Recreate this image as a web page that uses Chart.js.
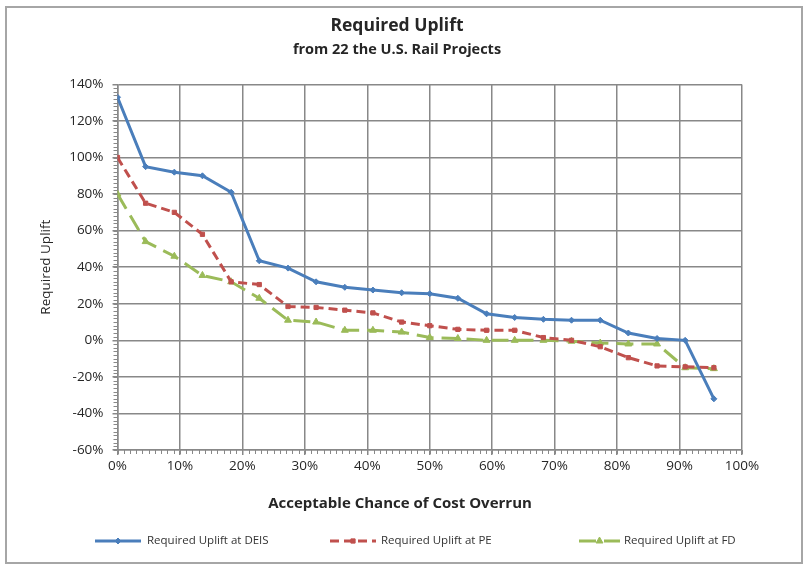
<!DOCTYPE html>
<html>
<head>
<meta charset="utf-8">
<script src="https://cdn.jsdelivr.net/npm/chart.js@4.4.1/dist/chart.umd.min.js"></script>
<style>
    html, body { margin: 0; padding: 0; background: #fff; }
</style>
</head>
<body>
<canvas id="upliftChart" width="807" height="566"></canvas>
<script>
// Acceptable chance of cost overrun (%), one point per project rank (22 projects)
const chancePct = [0, 4.5, 9.1, 13.6, 18.2, 22.7, 27.3, 31.8, 36.4, 40.9, 45.5,
                   50, 54.5, 59.1, 63.6, 68.2, 72.7, 77.3, 81.8, 86.4, 90.9, 95.5];

// Required uplift (%)
const upliftDEIS = [133, 95, 92, 90, 81, 43.5, 39.5, 32, 29, 27.5, 26,
                    25.5, 23, 14.5, 12.5, 11.5, 11, 11, 4, 1, 0, -32];
const upliftPE = [100, 75, 70, 58, 32, 30.5, 18.5, 18, 16.5, 15, 10,
                  8, 6, 5.5, 5.5, 1.5, 0, -3.5, -9.5, -14, -14.5, -15];
const upliftFD = [80, 54, 46, 35.5, 32, 23, 11, 10, 5.5, 5.5, 4.5,
                  1.5, 1, 0, 0, 0, -0.5, -1.5, -2, -2, -15, -15.5];

const seriesLabels = ['Required Uplift at DEIS', 'Required Uplift at PE', 'Required Uplift at FD'];
const yTickValues = [-60, -40, -20, 0, 20, 40, 60, 80, 100, 120, 140];
const xTickValues = [0, 10, 20, 30, 40, 50, 60, 70, 80, 90, 100];

const FONT = '"Open Sans", Lato, sans-serif';
const GRID = '#888888';
const TEXT = '#262626';

function toPoints(values) {
    return values.map((v, i) => ({ x: chancePct[i], y: v }));
}

// border, minor ticks, x title and legend (Excel style)
const excelBits = {
    id: 'excelBits',
    beforeDraw(chart) {
        const ctx = chart.ctx;
        ctx.save();
        ctx.strokeStyle = '#a6a6a6';
        ctx.lineWidth = 2;
        ctx.strokeRect(6, 7, 796, 556);
        ctx.restore();
    },
    afterDraw(chart) {
        const ctx = chart.ctx;
        const xs = chart.scales.x;
        const ys = chart.scales.y;
        ctx.save();
        ctx.strokeStyle = GRID;
        ctx.lineWidth = 1;
        ctx.beginPath();
        for (let v = ys.min; v <= ys.max; v += 2) {
            const y = Math.round(ys.getPixelForValue(v)) + 0.5;
            ctx.moveTo(xs.left - 4, y);
            ctx.lineTo(xs.left, y);
        }
        for (let v = xs.min; v <= xs.max; v += 1) {
            const x = Math.round(xs.getPixelForValue(v)) + 0.5;
            ctx.moveTo(x, ys.bottom);
            ctx.lineTo(x, ys.bottom + 4);
        }
        ctx.stroke();

        // x axis title
        ctx.fillStyle = TEXT;
        ctx.font = 'bold 15px ' + FONT;
        ctx.textAlign = 'center';
        ctx.textBaseline = 'middle';
        ctx.fillText('Acceptable Chance of Cost Overrun', 400, 504);

        // legend
        const items = [
            { x0: 95, x1: 141, tx: 147 },
            { x0: 330, x1: 376, tx: 381 },
            { x0: 579, x1: 620, tx: 624 }
        ];
        const ly = 541;
        chart.data.datasets.forEach((ds, i) => {
            const it = items[i];
            ctx.save();
            ctx.strokeStyle = ds.borderColor;
            ctx.lineWidth = 3;
            ctx.setLineDash(ds.borderDash || []);
            ctx.beginPath();
            ctx.moveTo(it.x0, ly);
            ctx.lineTo(it.x1, ly);
            ctx.stroke();
            ctx.restore();
            ctx.fillStyle = ds.borderColor;
            ctx.strokeStyle = ds.borderColor;
            ctx.lineWidth = 1;
            Chart.helpers.drawPoint(ctx, { pointStyle: ds.pointStyle, radius: ds.pointRadius, rotation: 0, borderWidth: 1 },
                (it.x0 + it.x1) / 2, ly);
            ctx.fillStyle = '#333';
            ctx.font = '11.5px ' + FONT;
            ctx.textAlign = 'left';
            ctx.textBaseline = 'middle';
            ctx.fillText(seriesLabels[i], it.tx, ly);
        });
        ctx.restore();
    }
};

new Chart(document.getElementById('upliftChart'), {
    type: 'line',
    data: {
        datasets: [
            {
                label: seriesLabels[0],
                data: toPoints(upliftDEIS),
                yAxisID: 'y',
                borderColor: '#4a7ebb',
                backgroundColor: '#4a7ebb',
                borderWidth: 3,
                pointStyle: 'rectRot',
                pointRadius: 3,
                pointBorderWidth: 1
            },
            {
                label: seriesLabels[1],
                data: toPoints(upliftPE),
                yAxisID: 'y',
                borderColor: '#c0504d',
                backgroundColor: '#c0504d',
                borderWidth: 3,
                borderDash: [9, 5],
                pointStyle: 'rect',
                pointRadius: 3,
                pointBorderWidth: 1
            },
            {
                label: seriesLabels[2],
                data: toPoints(upliftFD),
                yAxisID: 'y',
                borderColor: '#9bbb59',
                backgroundColor: '#9bbb59',
                borderWidth: 3,
                borderDash: [17, 8],
                pointStyle: 'triangle',
                pointRadius: 4,
                pointBorderWidth: 1
            }
        ]
    },
    options: {
        responsive: false,
        animation: false,
        layout: { padding: { left: 0, right: 13, top: 0, bottom: 0 } },
        plugins: {
            legend: { display: false },
            tooltip: { enabled: false },
            title: {
                display: true,
                text: 'Required Uplift',
                color: TEXT,
                font: { family: FONT, size: 17.5, weight: 'bold' },
                padding: { top: 16, bottom: 4 }
            },
            subtitle: {
                display: true,
                text: 'from 22 the U.S. Rail Projects',
                color: TEXT,
                font: { family: FONT, size: 14.5, weight: 'bold' },
                padding: { top: 0, bottom: 26 }
            }
        },
        scales: {
            x: {
                type: 'linear',
                min: 0,
                max: 100,
                afterBuildTicks: scale => { scale.ticks = xTickValues.map(v => ({ value: v })); },
                afterFit: scale => { scale.height = 116; },
                ticks: {
                    color: TEXT,
                    font: { family: FONT, size: 13.5 },
                    padding: 3,
                    maxRotation: 0,
                    callback: v => v + '%'
                },
                grid: { color: GRID, lineWidth: 1.5, tickLength: 5 },
                border: { color: GRID, width: 1.5 }
            },
            y: {
                position: 'left',
                min: -60,
                max: 140,
                afterBuildTicks: scale => { scale.ticks = yTickValues.map(v => ({ value: v })); },
                afterFit: scale => { scale.width = 117.5; },
                ticks: {
                    color: TEXT,
                    font: { family: FONT, size: 13.5 },
                    padding: 9,
                    callback: v => v + '%'
                },
                grid: { color: GRID, lineWidth: 1.5, tickLength: 5 },
                border: { color: GRID, width: 1.5 },
                title: {
                    display: true,
                    text: 'Required Uplift',
                    color: TEXT,
                    font: { family: FONT, size: 13.5 },
                    padding: { top: 38, bottom: 0 }
                }
            },
            // empty right-hand spacer so the titles centre on the whole frame
            yRight: {
                position: 'right',
                display: true,
                afterFit: scale => { scale.width = 52; },
                grid: { display: false },
                ticks: { display: false },
                border: { display: false }
            }
        }
    },
    plugins: [excelBits]
});
</script>
</body>
</html>
